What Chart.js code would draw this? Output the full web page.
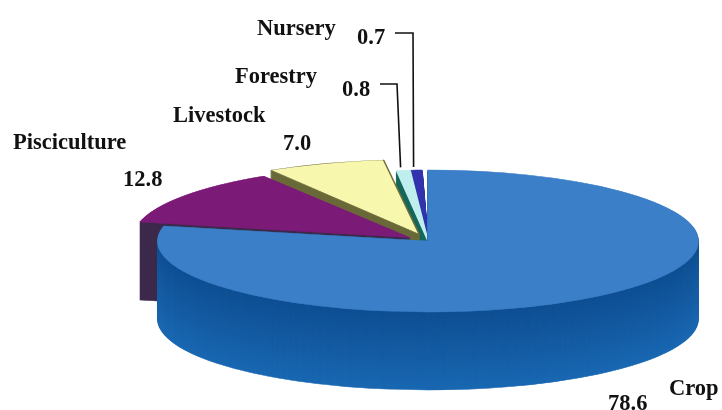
<!DOCTYPE html>
<html>
<head>
<meta charset="utf-8">
<title>Land use shares</title>
<style>
  html, body { margin: 0; padding: 0; background: #fff; }
  canvas { display: block; }
</style>
<script src="https://cdn.jsdelivr.net/npm/chart.js@4/dist/chart.umd.js"></script>
</head>
<body>
<canvas id="pie" width="722" height="410"></canvas>
<script>
// Sector shares, clockwise from twelve o'clock
const categories = ['Crop', 'Pisciculture', 'Livestock', 'Forestry', 'Nursery'];
const shares = [78.6, 12.8, 7.0, 0.8, 0.7];
const shareLabels = ['78.6', '12.8', '7.0', '0.8', '0.7'];

// Slice styling
const topColors = ['#3a7fc7', '#7c1a78', '#f7f7ae', '#bfeeee', '#3232ae'];
const wallTopColors = ['#0f4f93', '#3d2a4c', '#6a6a3a', '#17675a', '#20207a'];
const wallBottomColors = ['#1a68b2', '#3d2a4c', '#6a6a3a', '#17675a', '#20207a'];
const explode = [0, 56, 68, 0, 0];
const outlineColors = ['#3a7fc7', '#7c1a78', '#6f6f3c', '#bfeeee', '#3232ae'];

// Tilted disc geometry
const disc = { cx: 428, cy: 241, rx: 270, ry: 71, depth: 78 };

// Text placement, in category order
const nameSpots = [[669, 395], [13, 149], [173, 122], [235, 83], [257, 35]];
const valueSpots = [[608, 410], [123, 186], [283, 150], [342, 96], [357, 44]];

// Elbow leaders for the two thin slices: index, start, elbow
const leaders = [
  { index: 3, start: [380, 84], elbowX: 397 },
  { index: 4, start: [395, 33], elbowX: 413 }
];

function mixColor(a, b, t) {
  const channel = s => parseInt(s, 16);
  const parts = h => [channel(h.slice(1, 3)), channel(h.slice(3, 5)), channel(h.slice(5, 7))];
  const pa = parts(a), pb = parts(b);
  return 'rgb(' + pa.map((v, i) => Math.round(v + (pb[i] - v) * t)).join(',') + ')';
}

const tiltedPie = {
  id: 'tiltedPie',
  beforeDatasetDraw(chart, args) {
    const ctx = chart.ctx;
    const arcs = args.meta.data;
    const R = arcs[0].outerRadius;
    const project = (arc, shiftY) => {
      ctx.translate(disc.cx, disc.cy + shiftY);
      ctx.scale(disc.rx / R, disc.ry / R);
      ctx.translate(-arc.x, -arc.y);
    };
    // Rear slices first so the large front slice overlaps them
    [4, 3, 2, 1, 0].forEach(i => {
      const arc = arcs[i];
      for (let d = disc.depth; d >= 1; d--) {
        const layer = Object.create(arc);
        const wall = mixColor(wallTopColors[i], wallBottomColors[i], d / disc.depth);
        layer.options = Object.assign({}, arc.options, {
          backgroundColor: wall, borderColor: wall, borderWidth: 1
        });
        ctx.save();
        project(arc, d);
        layer.draw(ctx);
        ctx.restore();
      }
      ctx.save();
      project(arc, 0);
      arc.draw(ctx);
      ctx.restore();
    });
    return false;
  },
  afterDatasetsDraw(chart) {
    const ctx = chart.ctx;
    const arcs = chart.getDatasetMeta(0).data;
    ctx.save();
    ctx.strokeStyle = '#111';
    ctx.lineWidth = 1.6;
    leaders.forEach(l => {
      const arc = arcs[l.index];
      const tip = arc.startAngle + (arc.endAngle - arc.startAngle) * 0.3;
      ctx.beginPath();
      ctx.moveTo(l.start[0], l.start[1]);
      ctx.lineTo(l.elbowX, l.start[1]);
      ctx.lineTo(disc.cx + Math.cos(tip) * disc.rx, disc.cy + Math.sin(tip) * disc.ry - 3);
      ctx.stroke();
    });
    ctx.fillStyle = '#111';
    ctx.font = 'bold 22.5px "Liberation Serif"';
    ctx.textBaseline = 'alphabetic';
    categories.forEach((name, i) => {
      ctx.fillText(name, nameSpots[i][0], nameSpots[i][1]);
      ctx.fillText(shareLabels[i], valueSpots[i][0], valueSpots[i][1]);
    });
    ctx.restore();
  }
};

new Chart(document.getElementById('pie'), {
  type: 'pie',
  data: {
    labels: categories,
    datasets: [{
      data: shares,
      backgroundColor: topColors,
      borderColor: outlineColors,
      borderWidth: 1,
      offset: explode
    }]
  },
  options: {
    responsive: false,
    animation: false,
    rotation: 0,
    circumference: 358.7,
    plugins: { legend: { display: false }, tooltip: { enabled: false } }
  },
  plugins: [tiltedPie]
});
</script>
</body>
</html>
